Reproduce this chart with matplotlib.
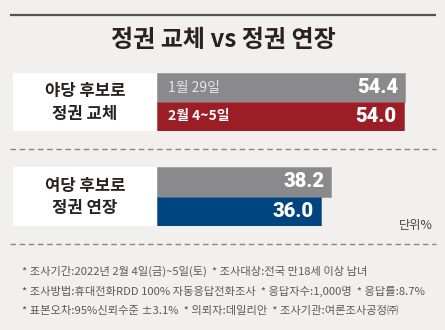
import matplotlib
matplotlib.use("Agg")
import matplotlib.pyplot as plt
from matplotlib.patches import Rectangle

plt.rcParams["font.family"] = ["Noto Sans CJK KR", "DejaVu Sans"]

W, H = 445, 330

title = "정권 교체 vs 정권 연장"
groups = ["야당 후보로\n정권 교체", "여당 후보로\n정권 연장"]
periods = ["1월 29일", "2월 4~5일"]
change_values = [54.4, 54.0]
extend_values = [38.2, 36.0]
unit_label = "단위%"
notes = [
    "* 조사기간:2022년 2월 4일(금)~5일(토)  * 조사대상:전국 만18세 이상 남녀",
    "* 조사방법:휴대전화RDD 100% 자동응답전화조사  * 응답자수:1,000명  * 응답률:8.7%",
    "* 표본오차:95%신뢰수준 ±3.1%  * 의뢰자:데일리안  * 조사기관:여론조사공정㈜",
]

BG = "#f1f0ee"
DARK = "#2a2222"
GRAY_BAR = "#8a8a8c"
RED_BAR = "#9b1d26"
BLUE_BAR = "#00457f"

fig = plt.figure(figsize=(W / 100, H / 100), dpi=100, facecolor=BG)

# overlay axes in pixel units for frame, text and separators
bg = fig.add_axes([0, 0, 1, 1])
bg.set_xlim(0, W)
bg.set_ylim(H, 0)
bg.axis("off")
bg.set_facecolor(BG)

bg.plot([10, 436], [14.5, 14.5], color="#5a5050", lw=1.6, solid_capstyle="butt")
bg.text(223, 40, title, ha="center", va="center", fontsize=17.3, fontweight="black", color=DARK)

for y in (149.3, 244):
    bg.plot([10, 436], [y, y], color="#8c8585", lw=1.0, dashes=(4, 2.6))

BAR_X0 = 156.5
PX_PER_UNIT = 4.577
XMAX = 60


def px_axes(x0, y0, x1, y1):
    return fig.add_axes([x0 / W, 1 - y1 / H, (x1 - x0) / W, (y1 - y0) / H])


panels = [
    (73.3, 130.7, change_values, [GRAY_BAR, RED_BAR], True),
    (167.3, 226.0, extend_values, [GRAY_BAR, BLUE_BAR], False),
]

for (top, bottom, values, colors, show_periods), group in zip(panels, groups):
    bg.add_patch(Rectangle((12.7, top), BAR_X0 - 12.7, bottom - top, facecolor="white", edgecolor="none"))
    bg.text(85, (top + bottom) / 2 + 0.5, group, ha="center", va="center", fontsize=12,
            fontweight="black", color=DARK, linespacing=1.3)

    ax = px_axes(BAR_X0, top, BAR_X0 + PX_PER_UNIT * XMAX, bottom)
    ax.set_xlim(0, XMAX)
    ax.set_ylim(1.5, -0.5)
    ax.axis("off")
    ax.patch.set_alpha(0)
    edges = ["#a0a0a2", "#b84a52" if colors[1] == RED_BAR else "#3a6a99"]
    ax.barh([0, 1], values, height=1.0, left=0, color=colors, edgecolor=edges, linewidth=0.6)
    for i, v in enumerate(values):
        ax.annotate(f"{v:.1f}", xy=(v, i), xytext=(-5.2, 0), textcoords="offset points",
                    ha="right", va="center", fontsize=14.5, fontweight="black", color="white",
                    family=["Roboto", "DejaVu Sans"])
        if show_periods:
            ax.annotate(periods[i], xy=(0, i), xytext=(8.3, 0), textcoords="offset points",
                        ha="left", va="center", fontsize=10,
                        fontweight="normal" if i == 0 else "bold",
                        color="#e6e6e6" if i == 0 else "white")

bg.text(433, 225, unit_label, ha="right", va="center", fontsize=8.8, color="#444444")

for y, note in zip((271, 291, 311), notes):
    bg.text(22, y, note, ha="left", va="center", fontsize=8.1, color="#5a5a5a")

fig.savefig("out.png", dpi=100, facecolor=BG)
